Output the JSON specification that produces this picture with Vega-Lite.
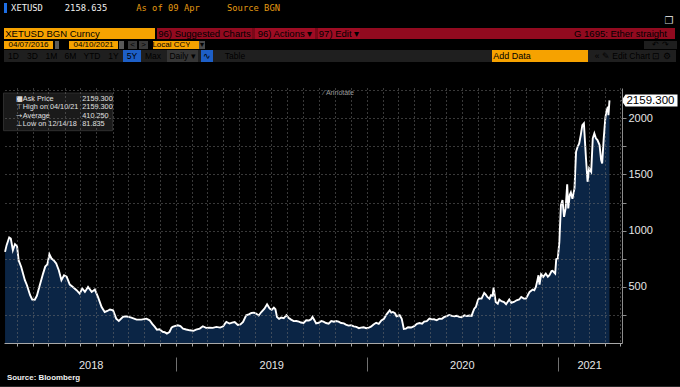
{
"$schema": "https://vega.github.io/schema/vega-lite/v6.json",
"background": "#000000",
"padding": 0,
"spacing": 0,
"config": {
 "view": {"stroke": null},
 "concat": {"spacing": 0},
 "style": {
  "hb": {"font": "Liberation Sans", "fontSize": 9.5, "fill": "#1a1000"},
  "hw": {"font": "Liberation Sans", "fontSize": 9.5, "fill": "#f2f2f2"},
  "hd": {"font": "Liberation Sans", "fontSize": 9.5, "fill": "#bd1930"},
  "hs": {"font": "Liberation Sans", "fontSize": 8, "fill": "#1a1000"},
  "hw9": {"font": "Liberation Sans", "fontSize": 8, "fill": "#d8d8d8"},
  "hbtn": {"font": "Liberation Sans", "fontSize": 8.5, "fill": "#dadada"},
  "hadd": {"font": "Liberation Sans", "fontSize": 9, "fill": "#b36d00"},
  "ttl": {"font": "DejaVu Sans", "fontWeight": "bold", "fontSize": 17.5, "fill": "#ffffff"}
 }
},
"datasets": {
 "one": [{}],
 "none": [],
 "eth": [
  {"date":"2018-02-07","price":811},{"date":"2018-02-10","price":871},{"date":"2018-02-15","price":939},{"date":"2018-02-18","price":930},{"date":"2018-02-22","price":826},{"date":"2018-02-26","price":880},{"date":"2018-03-02","price":862},{"date":"2018-03-05","price":737},{"date":"2018-03-10","price":677},{"date":"2018-03-17","price":559},{"date":"2018-03-21","price":514},{"date":"2018-03-27","price":425},{"date":"2018-03-31","price":387},{"date":"2018-04-05","price":385},{"date":"2018-04-09","price":420},{"date":"2018-04-14","price":505},{"date":"2018-04-21","price":620},{"date":"2018-04-25","price":680},{"date":"2018-04-29","price":700},{"date":"2018-05-03","price":790},{"date":"2018-05-07","price":752},{"date":"2018-05-11","price":737},{"date":"2018-05-16","price":708},{"date":"2018-05-21","price":648},{"date":"2018-05-26","price":559},{"date":"2018-05-31","price":603},{"date":"2018-06-05","price":590},{"date":"2018-06-11","price":520},{"date":"2018-06-17","price":499},{"date":"2018-06-24","price":470},{"date":"2018-06-30","price":440},{"date":"2018-07-05","price":485},{"date":"2018-07-10","price":455},{"date":"2018-07-16","price":499},{"date":"2018-07-23","price":455},{"date":"2018-07-29","price":476},{"date":"2018-08-04","price":410},{"date":"2018-08-11","price":320},{"date":"2018-08-17","price":276},{"date":"2018-08-22","price":285},{"date":"2018-08-27","price":298},{"date":"2018-09-02","price":291},{"date":"2018-09-08","price":217},{"date":"2018-09-13","price":196},{"date":"2018-09-21","price":232},{"date":"2018-09-27","price":238},{"date":"2018-10-07","price":226},{"date":"2018-10-17","price":208},{"date":"2018-10-26","price":208},{"date":"2018-11-05","price":217},{"date":"2018-11-11","price":202},{"date":"2018-11-16","price":170},{"date":"2018-11-21","price":143},{"date":"2018-11-25","price":118},{"date":"2018-11-30","price":122},{"date":"2018-12-06","price":100},{"date":"2018-12-10","price":96},{"date":"2018-12-14","price":84},{"date":"2018-12-19","price":98},{"date":"2018-12-23","price":137},{"date":"2018-12-25","price":143},{"date":"2018-12-29","price":150},
  {"date":"2019-01-04","price":158},{"date":"2019-01-09","price":150},{"date":"2019-01-14","price":128},{"date":"2019-01-20","price":120},{"date":"2019-01-27","price":113},{"date":"2019-02-03","price":108},{"date":"2019-02-08","price":119},{"date":"2019-02-15","price":128},{"date":"2019-02-21","price":149},{"date":"2019-02-27","price":135},{"date":"2019-03-06","price":137},{"date":"2019-03-12","price":135},{"date":"2019-03-19","price":143},{"date":"2019-03-26","price":137},{"date":"2019-04-01","price":149},{"date":"2019-04-04","price":170},{"date":"2019-04-07","price":187},{"date":"2019-04-13","price":173},{"date":"2019-04-18","price":182},{"date":"2019-04-23","price":187},{"date":"2019-04-29","price":160},{"date":"2019-05-04","price":165},{"date":"2019-05-09","price":187},{"date":"2019-05-15","price":247},{"date":"2019-05-20","price":255},{"date":"2019-05-25","price":267},{"date":"2019-05-30","price":270},{"date":"2019-06-03","price":262},{"date":"2019-06-08","price":245},{"date":"2019-06-13","price":276},{"date":"2019-06-19","price":306},{"date":"2019-06-24","price":345},{"date":"2019-06-26","price":330},{"date":"2019-06-29","price":306},{"date":"2019-07-03","price":295},{"date":"2019-07-07","price":315},{"date":"2019-07-10","price":300},{"date":"2019-07-13","price":232},{"date":"2019-07-17","price":215},{"date":"2019-07-21","price":226},{"date":"2019-07-26","price":220},{"date":"2019-07-31","price":247},{"date":"2019-08-04","price":225},{"date":"2019-08-09","price":208},{"date":"2019-08-14","price":195},{"date":"2019-08-19","price":196},{"date":"2019-08-24","price":190},{"date":"2019-08-28","price":182},{"date":"2019-09-02","price":178},{"date":"2019-09-07","price":202},{"date":"2019-09-12","price":200},{"date":"2019-09-16","price":210},{"date":"2019-09-19","price":232},{"date":"2019-09-23","price":200},{"date":"2019-09-26","price":175},{"date":"2019-10-01","price":180},{"date":"2019-10-06","price":196},{"date":"2019-10-10","price":190},{"date":"2019-10-15","price":178},{"date":"2019-10-20","price":172},{"date":"2019-10-25","price":196},{"date":"2019-10-30","price":190},{"date":"2019-11-03","price":196},{"date":"2019-11-08","price":190},{"date":"2019-11-13","price":178},{"date":"2019-11-18","price":175},{"date":"2019-11-22","price":164},{"date":"2019-11-27","price":155},{"date":"2019-12-02","price":158},{"date":"2019-12-07","price":148},{"date":"2019-12-12","price":143},{"date":"2019-12-17","price":132},{"date":"2019-12-21","price":137},{"date":"2019-12-26","price":140},{"date":"2019-12-31","price":132},
  {"date":"2020-01-05","price":137},{"date":"2020-01-09","price":145},{"date":"2020-01-14","price":165},{"date":"2020-01-19","price":180},{"date":"2020-01-24","price":170},{"date":"2020-01-29","price":200},{"date":"2020-02-03","price":215},{"date":"2020-02-08","price":255},{"date":"2020-02-14","price":291},{"date":"2020-02-17","price":270},{"date":"2020-02-20","price":276},{"date":"2020-02-24","price":265},{"date":"2020-02-27","price":238},{"date":"2020-03-04","price":247},{"date":"2020-03-08","price":215},{"date":"2020-03-12","price":125},{"date":"2020-03-16","price":128},{"date":"2020-03-20","price":140},{"date":"2020-03-26","price":138},{"date":"2020-04-01","price":150},{"date":"2020-04-06","price":170},{"date":"2020-04-11","price":178},{"date":"2020-04-16","price":172},{"date":"2020-04-20","price":190},{"date":"2020-04-25","price":195},{"date":"2020-04-30","price":217},{"date":"2020-05-05","price":210},{"date":"2020-05-09","price":211},{"date":"2020-05-14","price":202},{"date":"2020-05-19","price":217},{"date":"2020-05-24","price":215},{"date":"2020-05-28","price":230},{"date":"2020-06-02","price":240},{"date":"2020-06-07","price":250},{"date":"2020-06-12","price":242},{"date":"2020-06-17","price":238},{"date":"2020-06-22","price":242},{"date":"2020-06-26","price":232},{"date":"2020-07-01","price":230},{"date":"2020-07-06","price":247},{"date":"2020-07-11","price":240},{"date":"2020-07-16","price":245},{"date":"2020-07-20","price":242},{"date":"2020-07-22","price":270},{"date":"2020-07-25","price":305},{"date":"2020-07-28","price":321},{"date":"2020-08-01","price":381},{"date":"2020-08-03","price":396},{"date":"2020-08-08","price":395},{"date":"2020-08-13","price":446},{"date":"2020-08-16","price":430},{"date":"2020-08-19","price":410},{"date":"2020-08-23","price":395},{"date":"2020-08-26","price":425},{"date":"2020-08-29","price":420},{"date":"2020-08-31","price":494},{"date":"2020-09-04","price":365},{"date":"2020-09-08","price":350},{"date":"2020-09-11","price":387},{"date":"2020-09-15","price":372},{"date":"2020-09-20","price":365},{"date":"2020-09-24","price":345},{"date":"2020-09-30","price":387},{"date":"2020-10-04","price":358},{"date":"2020-10-09","price":365},{"date":"2020-10-14","price":380},{"date":"2020-10-19","price":387},{"date":"2020-10-23","price":410},{"date":"2020-10-28","price":396},{"date":"2020-11-01","price":395},{"date":"2020-11-04","price":420},{"date":"2020-11-08","price":455},{"date":"2020-11-14","price":476},{"date":"2020-11-17","price":470},{"date":"2020-11-20","price":499},{"date":"2020-11-23","price":560},{"date":"2020-11-25","price":603},{"date":"2020-11-27","price":520},{"date":"2020-11-30","price":612},{"date":"2020-12-04","price":588},{"date":"2020-12-09","price":618},{"date":"2020-12-13","price":590},{"date":"2020-12-16","price":603},{"date":"2020-12-20","price":640},{"date":"2020-12-22","price":642},{"date":"2020-12-27","price":618},{"date":"2020-12-29","price":746},
  {"date":"2021-01-01","price":752},{"date":"2021-01-04","price":900},{"date":"2021-01-07","price":1227},{"date":"2021-01-10","price":1272},{"date":"2021-01-13","price":1123},{"date":"2021-01-16","price":1198},{"date":"2021-01-19","price":1412},{"date":"2021-01-21","price":1198},{"date":"2021-01-24","price":1320},{"date":"2021-01-26","price":1340},{"date":"2021-01-29","price":1283},{"date":"2021-02-02","price":1376},{"date":"2021-02-05","price":1702},{"date":"2021-02-08","price":1747},{"date":"2021-02-11","price":1777},{"date":"2021-02-14","price":1851},{"date":"2021-02-17","price":1940},{"date":"2021-02-20","price":1955},{"date":"2021-02-24","price":1643},{"date":"2021-02-27","price":1435},{"date":"2021-03-02","price":1554},{"date":"2021-03-06","price":1524},{"date":"2021-03-09","price":1822},{"date":"2021-03-12","price":1866},{"date":"2021-03-15","price":1822},{"date":"2021-03-18","price":1806},{"date":"2021-03-22","price":1762},{"date":"2021-03-25","price":1628},{"date":"2021-03-27","price":1599},{"date":"2021-03-30","price":1822},{"date":"2021-04-02","price":2000},{"date":"2021-04-04","price":2059},{"date":"2021-04-07","price":2103},{"date":"2021-04-08","price":2029},{"date":"2021-04-10","price":2159.3}
 ]
},
"vconcat": [
 {"width": 680, "height": 3, "data": {"name": "none"}, "mark": "point"},
 {"spacing": 0, "bounds": "flush", "hconcat": [
  {"width": 4, "height": 10, "data": {"name": "none"}, "mark": "point"},
  {"width": 3, "height": 10, "view": {"fill": "#1e6fe6"}, "data": {"name": "none"}, "mark": "point"},
  {"width": 2, "height": 10, "data": {"name": "none"}, "mark": "point"},
  {"width": 36, "height": 10, "data": {"name": "one"}, "mark": {"type": "text", "text": "XETUSD", "font": "DejaVu Sans Mono", "fontSize": 8.8, "color": "#f0f0f0"}},
  {"width": 18, "height": 10, "data": {"name": "none"}, "mark": "point"},
  {"width": 46, "height": 10, "data": {"name": "one"}, "mark": {"type": "text", "text": "2158.635", "font": "DejaVu Sans Mono", "fontSize": 8.8, "color": "#f0f0f0"}},
  {"width": 27, "height": 10, "data": {"name": "none"}, "mark": "point"},
  {"width": 64, "height": 10, "data": {"name": "one"}, "mark": {"type": "text", "text": "As of 09 Apr", "font": "DejaVu Sans Mono", "fontSize": 8.8, "color": "#e39a12"}},
  {"width": 27, "height": 10, "data": {"name": "none"}, "mark": "point"},
  {"width": 53, "height": 10, "data": {"name": "one"}, "mark": {"type": "text", "text": "Source BGN", "font": "DejaVu Sans Mono", "fontSize": 8.8, "color": "#e39a12"}},
  {"width": 400, "height": 10, "data": {"name": "none"}, "mark": "point"}
 ]},
 {"spacing": 0, "bounds": "flush", "hconcat": [
  {"width": 663, "height": 15, "data": {"name": "none"}, "mark": "point"},
  {"width": 12, "height": 15, "data": {"name": "one"}, "mark": {"type": "text", "text": "❐", "font": "DejaVu Sans", "fontSize": 10, "color": "#d0d0d0"}},
  {"width": 5, "height": 15, "data": {"name": "none"}, "mark": "point"}
 ]},
 {"spacing": 0, "bounds": "flush", "hconcat": [
  {"width": 4, "height": 11, "data": {"name": "none"}, "mark": "point"},
  {"width": 97, "height": 11, "view": {"fill": "#f6a200"}, "data": {"name": "one"}, "mark": {"type": "text", "text": "XETUSD BGN Curncy", "style": "hb"}},
  {"width": 54, "height": 11, "view": {"fill": "#f6a200"}, "data": {"name": "none"}, "mark": "point"},
  {"width": 2, "height": 11, "data": {"name": "none"}, "mark": "point"},
  {"width": 95, "height": 11, "view": {"fill": "#920a1f"}, "data": {"name": "one"}, "mark": {"type": "text", "text": "96) Suggested Charts", "style": "hd"}},
  {"width": 3, "height": 11, "view": {"fill": "#7a0818"}, "data": {"name": "none"}, "mark": "point"},
  {"width": 60, "height": 11, "view": {"fill": "#9e0c23"}, "data": {"name": "one"}, "mark": {"type": "text", "text": "96) Actions ▾", "style": "hw"}},
  {"width": 3, "height": 11, "view": {"fill": "#7a0818"}, "data": {"name": "none"}, "mark": "point"},
  {"width": 42, "height": 11, "view": {"fill": "#9e0c23"}, "data": {"name": "one"}, "mark": {"type": "text", "text": "97) Edit ▾", "style": "hw"}},
  {"width": 208, "height": 11, "view": {"fill": "#920a1f"}, "data": {"name": "none"}, "mark": "point"},
  {"width": 105, "height": 11, "view": {"fill": "#920a1f"}, "data": {"name": "one"}, "mark": {"type": "text", "text": "G 1695: Ether straight", "style": "hw"}},
  {"width": 2, "height": 11, "view": {"fill": "#920a1f"}, "data": {"name": "none"}, "mark": "point"},
  {"width": 5, "height": 11, "data": {"name": "none"}, "mark": "point"}
 ]},
 {"width": 680, "height": 2, "data": {"name": "none"}, "mark": "point"},
 {"spacing": 0, "bounds": "flush", "hconcat": [
  {"width": 4, "height": 8, "data": {"name": "none"}, "mark": "point"},
  {"width": 49, "height": 8, "view": {"fill": "#f6a200"}, "data": {"name": "one"}, "mark": {"type": "text", "text": "04/07/2016", "style": "hs"}},
  {"width": 2, "height": 8, "data": {"name": "none"}, "mark": "point"},
  {"width": 4, "height": 8, "view": {"fill": "#5a5a5a"}, "data": {"name": "none"}, "mark": "point"},
  {"width": 1, "height": 8, "data": {"name": "none"}, "mark": "point"},
  {"width": 6, "height": 8, "data": {"name": "one"}, "mark": {"type": "text", "text": "-", "style": "hw9"}},
  {"width": 3, "height": 8, "data": {"name": "none"}, "mark": "point"},
  {"width": 49, "height": 8, "view": {"fill": "#f6a200"}, "data": {"name": "one"}, "mark": {"type": "text", "text": "04/10/2021", "style": "hs"}},
  {"width": 1, "height": 8, "data": {"name": "none"}, "mark": "point"},
  {"width": 5, "height": 8, "view": {"fill": "#5a5a5a"}, "data": {"name": "none"}, "mark": "point"},
  {"width": 4, "height": 8, "data": {"name": "none"}, "mark": "point"},
  {"width": 9, "height": 8, "view": {"fill": "#3a3a3a"}, "data": {"name": "one"}, "mark": {"type": "text", "text": "<", "style": "hw9"}},
  {"width": 2, "height": 8, "data": {"name": "none"}, "mark": "point"},
  {"width": 9, "height": 8, "view": {"fill": "#3a3a3a"}, "data": {"name": "one"}, "mark": {"type": "text", "text": ">", "style": "hw9"}},
  {"width": 5, "height": 8, "data": {"name": "none"}, "mark": "point"},
  {"width": 37, "height": 8, "view": {"fill": "#f6a200"}, "data": {"name": "one"}, "mark": {"type": "text", "text": "Local CCY", "style": "hs"}},
  {"width": 9, "height": 8, "view": {"fill": "#f6a200"}, "data": {"name": "none"}, "mark": "point"},
  {"width": 6, "height": 8, "view": {"fill": "#4a4a4a"}, "data": {"name": "one"}, "mark": {"type": "text", "text": "▾", "style": "hw9"}},
  {"width": 439, "height": 8, "data": {"name": "none"}, "mark": "point"},
  {"width": 33, "height": 8, "view": {"fill": "#1e1e1e"}, "data": {"name": "one"}, "mark": {"type": "text", "text": "↶     ↷", "style": "hw9"}},
  {"width": 3, "height": 8, "data": {"name": "none"}, "mark": "point"}
 ]},
 {"width": 680, "height": 1, "data": {"name": "none"}, "mark": "point"},
 {"spacing": 0, "bounds": "flush", "hconcat": [
  {"width": 4, "height": 12, "data": {"name": "none"}, "mark": "point"},
  {"width": 19, "height": 12, "view": {"fill": "#1f1f1f"}, "data": {"name": "one"}, "mark": {"type": "text", "text": "1D", "style": "hbtn"}},
  {"width": 19, "height": 12, "view": {"fill": "#1f1f1f"}, "data": {"name": "one"}, "mark": {"type": "text", "text": "3D", "style": "hbtn"}},
  {"width": 19, "height": 12, "view": {"fill": "#1f1f1f"}, "data": {"name": "one"}, "mark": {"type": "text", "text": "1M", "style": "hbtn"}},
  {"width": 19, "height": 12, "view": {"fill": "#1f1f1f"}, "data": {"name": "one"}, "mark": {"type": "text", "text": "6M", "style": "hbtn"}},
  {"width": 24, "height": 12, "view": {"fill": "#1f1f1f"}, "data": {"name": "one"}, "mark": {"type": "text", "text": "YTD", "style": "hbtn"}},
  {"width": 19, "height": 12, "view": {"fill": "#1f1f1f"}, "data": {"name": "one"}, "mark": {"type": "text", "text": "1Y", "style": "hbtn"}},
  {"width": 18, "height": 12, "view": {"fill": "#1d5fc7"}, "data": {"name": "one"}, "mark": {"type": "text", "text": "5Y", "style": "hbtn"}},
  {"width": 24, "height": 12, "view": {"fill": "#1f1f1f"}, "data": {"name": "one"}, "mark": {"type": "text", "text": "Max", "style": "hbtn"}},
  {"width": 2, "height": 12, "view": {"fill": "#1f1f1f"}, "data": {"name": "none"}, "mark": "point"},
  {"width": 31, "height": 12, "view": {"fill": "#363636"}, "data": {"name": "one"}, "mark": {"type": "text", "text": "Daily ▾", "style": "hbtn"}},
  {"width": 3, "height": 12, "view": {"fill": "#1f1f1f"}, "data": {"name": "none"}, "mark": "point"},
  {"width": 12, "height": 12, "view": {"fill": "#1d5fc7"}, "data": {"name": "one"}, "mark": {"type": "text", "text": "∿", "style": "hbtn"}},
  {"width": 9, "height": 12, "view": {"fill": "#1f1f1f"}, "data": {"name": "none"}, "mark": "point"},
  {"width": 26, "height": 12, "view": {"fill": "#1f1f1f"}, "data": {"name": "one"}, "mark": {"type": "text", "text": "Table", "style": "hbtn"}},
  {"width": 244, "height": 12, "view": {"fill": "#1f1f1f"}, "data": {"name": "none"}, "mark": "point"},
  {"width": 40, "height": 12, "view": {"fill": "#f6a200"}, "data": {"name": "one"}, "mark": {"type": "text", "text": "Add Data", "style": "hadd"}},
  {"width": 56, "height": 12, "view": {"fill": "#f6a200"}, "data": {"name": "none"}, "mark": "point"},
  {"width": 4, "height": 12, "view": {"fill": "#1f1f1f"}, "data": {"name": "none"}, "mark": "point"},
  {"width": 10, "height": 12, "view": {"fill": "#1f1f1f"}, "data": {"name": "one"}, "mark": {"type": "text", "text": "«", "style": "hbtn"}},
  {"width": 48, "height": 12, "view": {"fill": "#1f1f1f"}, "data": {"name": "one"}, "mark": {"type": "text", "text": "✎ Edit Chart", "style": "hbtn"}},
  {"width": 11, "height": 12, "view": {"fill": "#1f1f1f"}, "data": {"name": "one"}, "mark": {"type": "text", "text": "⊡", "style": "hbtn"}},
  {"width": 12, "height": 12, "view": {"fill": "#1f1f1f"}, "data": {"name": "one"}, "mark": {"type": "text", "text": "⚙", "style": "hbtn"}},
  {"width": 3, "height": 12, "view": {"fill": "#1f1f1f"}, "data": {"name": "none"}, "mark": "point"},
  {"width": 4, "height": 12, "data": {"name": "none"}, "mark": "point"}
 ]},
 {"spacing": 0, "bounds": "flush", "hconcat": [
  {"width": 4, "height": 26, "data": {"name": "none"}, "mark": "point"},
  {"width": 187, "height": 26, "data": {"name": "one"}, "mark": {"type": "text", "text": "Ethereum in Dollar", "style": "ttl"}},
  {"width": 489, "height": 26, "data": {"name": "none"}, "mark": "point"}
 ]},
 {"spacing": 0, "bounds": "flush", "hconcat": [
  {"width": 4, "height": 255, "data": {"name": "none"}, "mark": "point"},
  {
   "width": 618, "height": 255,
   "data": {"name": "eth"},
   "layer": [
    {"mark": {"type": "area", "fill": "#0b2545", "opacity": 1},
     "encoding": {
      "x": {"field": "date", "type": "temporal",
            "scale": {"domain": [{"year": 2018, "month": 2, "date": 5}, {"year": 2021, "month": 5, "date": 4}], "nice": false},
            "axis": {"orient": "bottom", "title": null, "labels": false, "tickCount": {"interval": "month", "step": 1}, "grid": true, "gridColor": "#727272", "gridDash": [1, 3], "gridWidth": 1, "domainColor": "#a8a8a8", "tickColor": "#a8a8a8", "tickSize": 3, "zindex": 1}},
      "y": {"field": "price", "type": "quantitative",
            "scale": {"domain": [0, 2270], "nice": false},
            "axis": {"orient": "right", "title": null, "values": [250, 500, 750, 1000, 1250, 1500, 1750, 2000], "format": "d", "labelExpr": "(datum.value % 500 === 0) ? datum.label : ''", "grid": true, "gridColor": "#727272", "gridDash": [1, 3], "gridWidth": 1, "domainColor": "#8c8c8c", "tickColor": "#8c8c8c", "tickSize": 4, "labelPadding": 2, "labelFont": "Liberation Sans", "labelFontSize": 11, "labelColor": "#e6e6e6", "zindex": 1}}
     }},
    {"mark": {"type": "line", "stroke": "#ffffff", "strokeWidth": 1.9},
     "encoding": {
      "x": {"field": "date", "type": "temporal",
            "axis": {"orient": "bottom", "title": null, "values": [{"year": 2018, "month": 7, "date": 21}, {"year": 2019, "month": 7, "date": 2}, {"year": 2020, "month": 7, "date": 1}, {"year": 2021, "month": 3, "date": 2}], "format": "%Y", "ticks": false, "tickSize": 0, "domain": false, "grid": false, "labelPadding": 16, "labelFont": "Liberation Sans", "labelFontSize": 11, "labelColor": "#e6e6e6", "labelFlush": false, "labelOverlap": false, "labelBaseline": "top"}},
      "y": {"field": "price", "type": "quantitative",
            "axis": {"orient": "right", "title": null, "values": [2250], "labels": false, "ticks": false, "domain": false, "grid": true, "gridColor": "#727272", "gridDash": [1, 3], "gridWidth": 1, "zindex": 1}}
     }},
    {"data": {"name": "one"},
     "mark": {"type": "rect", "fill": "#1a1a1a", "stroke": "#2e2e2e", "strokeWidth": 1},
     "encoding": {
      "x": {"datum": {"year": 2018, "month": 2, "date": 4}, "type": "temporal", "axis": null},
      "x2": {"datum": {"year": 2018, "month": 9, "date": 1}},
      "y": {"datum": 2225, "type": "quantitative", "axis": null},
      "y2": {"datum": 1890}
     }},
    {"data": {"name": "one"},
     "mark": {"type": "text", "text": ["■", "⊤", "→", "⊥"], "align": "left", "baseline": "top", "lineHeight": 8.35, "font": "DejaVu Sans", "fontSize": 7.3, "fill": "#d8d8d8"},
     "encoding": {
      "x": {"datum": {"year": 2018, "month": 2, "date": 28}, "type": "temporal", "axis": null},
      "y": {"datum": 2207, "type": "quantitative", "axis": null}
     }},
    {"data": {"name": "one"},
     "mark": {"type": "text", "text": ["Ask Price", "High on 04/10/21", "Average", "Low on 12/14/18"], "align": "left", "baseline": "top", "lineHeight": 8.35, "font": "Liberation Sans", "fontSize": 7.3, "fill": "#e0e0e0"},
     "encoding": {
      "x": {"datum": {"year": 2018, "month": 3, "date": 13}, "type": "temporal", "axis": null},
      "y": {"datum": 2207, "type": "quantitative", "axis": null}
     }},
    {"data": {"name": "one"},
     "mark": {"type": "text", "text": ["2159.300", "2159.300", "410.250", "81.835"], "align": "left", "baseline": "top", "lineHeight": 8.35, "font": "Liberation Sans", "fontSize": 7.3, "fill": "#e0e0e0"},
     "encoding": {
      "x": {"datum": {"year": 2018, "month": 7, "date": 5}, "type": "temporal", "axis": null},
      "y": {"datum": 2207, "type": "quantitative", "axis": null}
     }},
    {"data": {"name": "one"},
     "mark": {"type": "text", "text": "⁄ Annotate", "align": "center", "baseline": "middle", "font": "Liberation Sans", "fontSize": 7, "fill": "#9c9c9c"},
     "encoding": {
      "x": {"datum": {"year": 2019, "month": 11, "date": 8}, "type": "temporal", "axis": null},
      "y": {"datum": 2222, "type": "quantitative", "axis": null}
     }},
    {"transform": [{"filter": "datum.price > 2150"}],
     "mark": {"type": "point", "shape": "M12,0L16,-6L68,-6L68,6L16,6Z", "size": 4, "filled": true, "fill": "#ffffff", "opacity": 1, "strokeWidth": 0},
     "encoding": {
      "x": {"field": "date", "type": "temporal",
            "axis": {"orient": "bottom", "title": null, "values": [{"year": 2019, "month": 1, "date": 1}, {"year": 2020, "month": 1, "date": 1}, {"year": 2021, "month": 1, "date": 1}], "labels": false, "domain": false, "grid": false, "ticks": true, "tickSize": 14, "tickColor": "#707070", "offset": 14}},
      "y": {"field": "price", "type": "quantitative", "axis": null}
     }},
    {"transform": [{"filter": "datum.price > 2150"}],
     "mark": {"type": "text", "align": "left", "baseline": "middle", "dx": 17, "dy": 1, "font": "Liberation Sans", "fontSize": 11.5, "fill": "#000000"},
     "encoding": {
      "x": {"field": "date", "type": "temporal", "axis": null},
      "y": {"field": "price", "type": "quantitative", "axis": null},
      "text": {"field": "price", "type": "quantitative", "format": ".3f"}
     }}
   ],
   "resolve": {"axis": {"x": "independent", "y": "independent"}}
  },
  {"width": 58, "height": 255, "data": {"name": "none"}, "mark": "point"}
 ]},
 {"spacing": 0, "bounds": "flush", "hconcat": [
  {"width": 5, "height": 11, "data": {"name": "none"}, "mark": "point"},
  {"width": 77, "height": 11, "data": {"name": "one"}, "mark": {"type": "text", "text": "Source: Bloomberg", "font": "Liberation Sans", "fontWeight": "bold", "fontSize": 7.9, "color": "#f0f0f0"}},
  {"width": 598, "height": 11, "data": {"name": "none"}, "mark": "point"}
 ]},
 {"width": 680, "height": 3, "data": {"name": "none"}, "mark": "point"},
 {"width": 680, "height": 2, "view": {"fill": "#262626"}, "data": {"name": "none"}, "mark": "point"}
]
}
